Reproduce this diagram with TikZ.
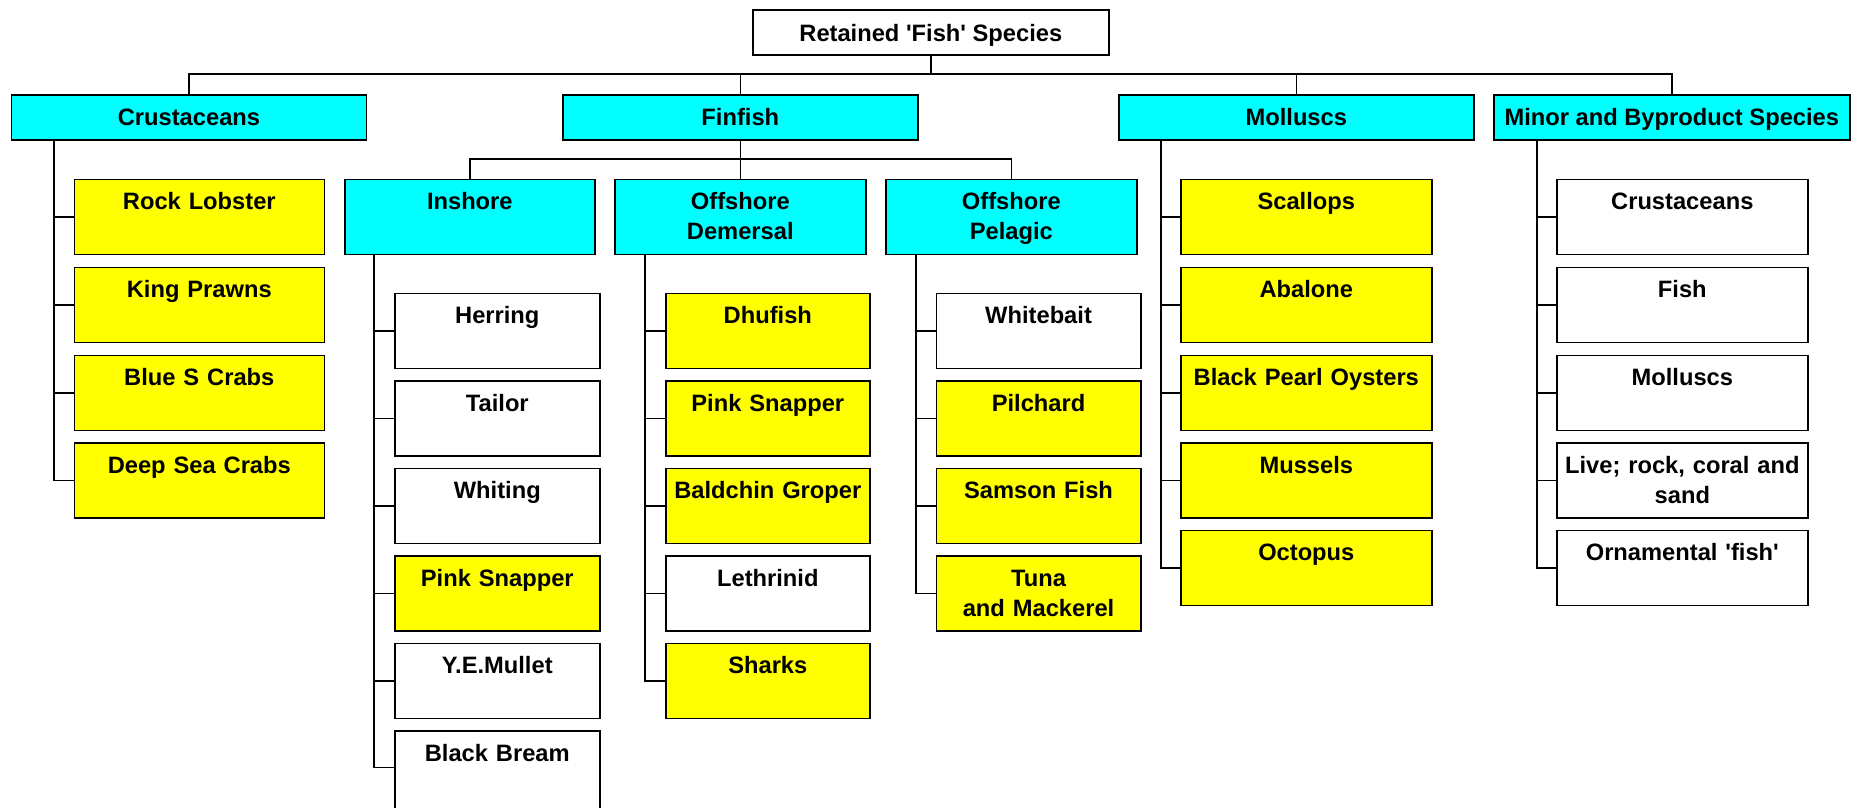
\documentclass[tikz,border=0pt]{standalone}
\usepackage{fontspec}
\setmainfont{Liberation Sans}
\definecolor{boxcyan}{RGB}{0,255,255}
\definecolor{boxyellow}{RGB}{255,255,0}
\newcommand{\sq}{\textquotesingle}
\tikzset{
  every node/.style={font=\fontsize{23.7}{29.7}\selectfont\bfseries},
  conn/.style={line width=1.6pt, draw=black, line cap=rect},
  headbox/.style={draw=black, line width=1.6pt, anchor=north west, inner sep=0pt,
    minimum width=#1, minimum height=45pt, text height=17pt, text depth=0pt},
  leafbox/.style={draw=black, line width=1.6pt, anchor=north west, inner sep=0pt,
    text width=#1, align=center, text height=30.3pt, text depth=44.7pt},
  cy/.style={fill=boxcyan},
  ye/.style={fill=boxyellow},
  wh/.style={fill=white},
}
\begin{document}
\begin{tikzpicture}[x=1pt,y=-1pt]
\useasboundingbox (0,0) rectangle (1854,807);

% root
\node[headbox=356pt, wh] (root) at (752,9.3) {Retained \sq Fish\sq{} Species};

% level 1
\node[headbox=355pt, cy] (crus) at (10.7,94) {Crustaceans};
\node[headbox=355pt, cy] (fin) at (562,94) {Finfish};
\node[headbox=355pt, cy] (moll) at (1118,94) {Molluscs};
\node[headbox=356pt, cy] (minor) at (1493,94) {Minor and Byproduct Species};

% finfish subgroups
\node[leafbox=250pt, cy] (insh) at (344,178.7) {Inshore};
\node[leafbox=251pt, cy] (dem) at (614,178.7) {Offshore\\Demersal};
\node[leafbox=251pt, cy] (pel) at (885,178.7) {Offshore\\Pelagic};

% crustaceans children
\node[leafbox=250pt, ye] (c1) at (73.5,178.7) {Rock Lobster};
\node[leafbox=250pt, ye] (c2) at (73.5,266.7) {King Prawns};
\node[leafbox=250pt, ye] (c3) at (73.5,354.7) {Blue S Crabs};
\node[leafbox=250pt, ye] (c4) at (73.5,442.3) {Deep Sea Crabs};

% inshore children
\node[leafbox=205pt, wh] (i1) at (394,292.7) {Herring};
\node[leafbox=205pt, wh] (i2) at (394,380) {Tailor};
\node[leafbox=205pt, wh] (i3) at (394,467.7) {Whiting};
\node[leafbox=205pt, ye] (i4) at (394,555.3) {Pink Snapper};
\node[leafbox=205pt, wh] (i5) at (394,642.7) {Y.E.Mullet};
\node[leafbox=205pt, wh, text depth=64.7pt] (i6) at (394,730.3) {Black Bream};
\coordinate (i6m) at (394,767.3);

% demersal children
\node[leafbox=204pt, ye] (d1) at (665,292.7) {Dhufish};
\node[leafbox=204pt, ye] (d2) at (665,380) {Pink Snapper};
\node[leafbox=204pt, ye] (d3) at (665,467.7) {Baldchin Groper};
\node[leafbox=204pt, wh] (d4) at (665,555.3) {Lethrinid};
\node[leafbox=204pt, ye] (d5) at (665,642.7) {Sharks};

% pelagic children
\node[leafbox=204.5pt, wh] (p1) at (935.5,292.7) {Whitebait};
\node[leafbox=204.5pt, ye] (p2) at (935.5,380) {Pilchard};
\node[leafbox=204.5pt, ye] (p3) at (935.5,467.7) {Samson Fish};
\node[leafbox=204.5pt, ye] (p4) at (935.5,555.3) {Tuna\\and Mackerel};

% molluscs children
\node[leafbox=251pt, ye] (m1) at (1180,178.7) {Scallops};
\node[leafbox=251pt, ye] (m2) at (1180,266.7) {Abalone};
\node[leafbox=251pt, ye] (m3) at (1180,354.7) {Black Pearl Oysters};
\node[leafbox=251pt, ye] (m4) at (1180,442.3) {Mussels};
\node[leafbox=251pt, ye] (m5) at (1180,529.7) {Octopus};

% minor children
\node[leafbox=251pt, wh] (n1) at (1556,178.7) {Crustaceans};
\node[leafbox=251pt, wh] (n2) at (1556,266.7) {Fish};
\node[leafbox=251pt, wh] (n3) at (1556,354.7) {Molluscs};
\node[leafbox=251pt, wh] (n4) at (1556,442.3) {Live; rock, coral and\\sand};
\node[leafbox=251pt, wh] (n5) at (1556,529.7) {Ornamental \sq fish\sq};

% top-level connectors
\coordinate (bus1) at (0,73.7);
\draw[conn] (root.south) -- (root.south |- bus1);
\draw[conn] (crus.north) -- (crus.north |- bus1) -- (minor.north |- bus1) -- (minor.north);
\draw[conn] (fin.north) -- (fin.north |- bus1);
\draw[conn] (moll.north) -- (moll.north |- bus1);

% finfish connectors
\coordinate (bus2) at (0,159);
\draw[conn] (fin.south) -- (fin.south |- bus2);
\draw[conn] (insh.north) -- (insh.north |- bus2) -- (pel.north |- bus2) -- (pel.north);
\draw[conn] (dem.north) -- (dem.north |- bus2);

% brackets
\coordinate (bc) at (54,0);
\draw[conn] (bc |- crus.south) -- (bc |- c4.west) -- (c4.west);
\foreach \n in {c1,c2,c3} \draw[conn] (bc |- \n.west) -- (\n.west);

\coordinate (bi) at (374,0);
\draw[conn] (bi |- insh.south) -- (bi |- i6m) -- (i6m);
\foreach \n in {i1,i2,i3,i4,i5} \draw[conn] (bi |- \n.west) -- (\n.west);

\coordinate (bd) at (645,0);
\draw[conn] (bd |- dem.south) -- (bd |- d5.west) -- (d5.west);
\foreach \n in {d1,d2,d3,d4} \draw[conn] (bd |- \n.west) -- (\n.west);

\coordinate (bp) at (916,0);
\draw[conn] (bp |- pel.south) -- (bp |- p4.west) -- (p4.west);
\foreach \n in {p1,p2,p3} \draw[conn] (bp |- \n.west) -- (\n.west);

\coordinate (bm) at (1161,0);
\draw[conn] (bm |- moll.south) -- (bm |- m5.west) -- (m5.west);
\foreach \n in {m1,m2,m3,m4} \draw[conn] (bm |- \n.west) -- (\n.west);

\coordinate (bn) at (1537,0);
\draw[conn] (bn |- minor.south) -- (bn |- n5.west) -- (n5.west);
\foreach \n in {n1,n2,n3,n4} \draw[conn] (bn |- \n.west) -- (\n.west);
\end{tikzpicture}
\end{document}
